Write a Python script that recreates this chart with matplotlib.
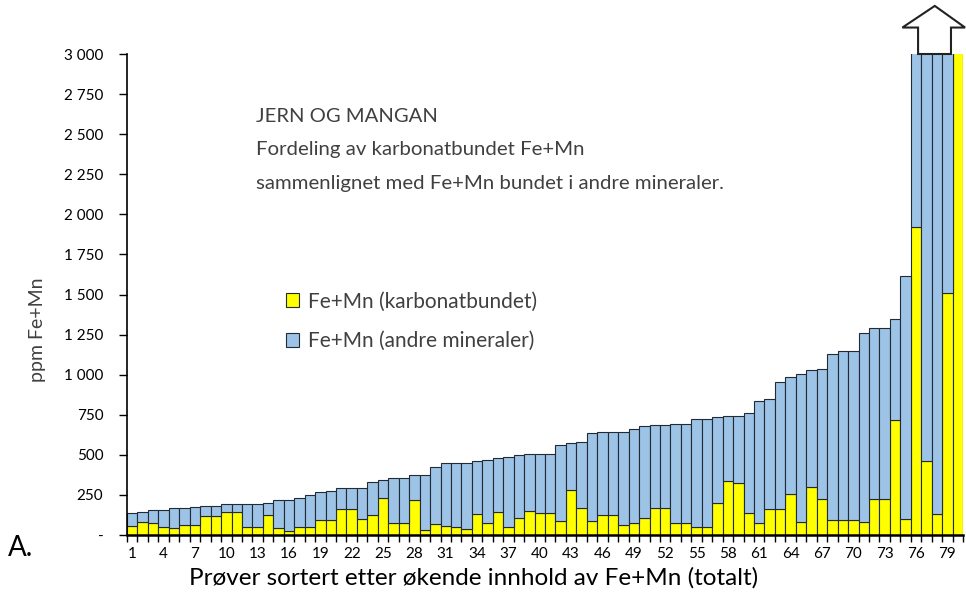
# -*- coding: utf-8 -*-
import numpy as np
import matplotlib
matplotlib.use('Agg')
import matplotlib.pyplot as plt
from matplotlib.patches import Patch, Polygon
from matplotlib import transforms

plt.rcParams['font.family'] = ['Lato', 'DejaVu Sans']

# Prøve nr. 1-80, sortert etter totalt Fe+Mn (ppm)
sample_no = np.arange(1, 81)
total_femn = np.array([
    140, 146, 154, 154, 166, 170, 173, 183, 183, 195,
    195, 195, 195, 198, 220, 220, 233, 248, 266, 275,
    291, 291, 291, 329, 341, 358, 358, 374, 374, 424,
    451, 451, 451, 464, 470, 478, 489, 499, 503, 506,
    506, 560, 572, 578, 634, 645, 645, 645, 661, 682,
    686, 686, 690, 693, 722, 722, 738, 745, 745, 761,
    834, 850, 954, 987, 1005, 1027, 1034, 1132, 1150, 1150,
    1257, 1294, 1294, 1345, 1617, 3300, 3800, 4500, 5500, 7000])
karbonat = np.array([
    56, 79, 73, 50, 42, 62, 60, 116, 116, 141,
    141, 50, 50, 123, 42, 23, 50, 50, 92, 92,
    160, 160, 102, 123, 229, 75, 75, 220, 31, 67,
    54, 48, 37, 133, 73, 146, 48, 104, 152, 135,
    135, 85, 279, 166, 85, 125, 125, 62, 77, 108,
    166, 166, 77, 77, 52, 52, 202, 335, 327, 135,
    76, 160, 160, 256, 82, 300, 227, 93, 93, 93,
    78, 222, 222, 715, 98, 1922, 462, 133, 1510, 7000])
andre = total_femn - karbonat

yticks = np.arange(0, 3001, 250)
ytick_labels = ['-' if v == 0 else '{:,}'.format(v).replace(',', ' ') for v in yticks]
xticks = np.arange(1, 81, 3)

fig = plt.figure(figsize=(9.66, 5.95), dpi=100)
ax = fig.add_axes([127/966, 60/595, 836/966, 481/595])

ax.bar(sample_no, karbonat, width=1.0, color='#ffff00', edgecolor='#222a35', linewidth=0.8)
ax.bar(sample_no, andre, width=1.0, bottom=karbonat, color='#9dc3e6',
       edgecolor='#222a35', linewidth=0.8)

ax.set_xlim(0.5, 80.5)
ax.set_ylim(0, 3000)
ax.spines['top'].set_visible(False)
ax.spines['right'].set_visible(False)
ax.spines['left'].set_linewidth(1.2)
ax.spines['bottom'].set_linewidth(1.8)

ax.set_yticks(yticks)
ax.set_yticklabels(ytick_labels, fontsize=11)
ax.tick_params(axis='y', length=6, width=1, pad=11)
ax.set_xticks(xticks)
ax.set_xticklabels([str(v) for v in xticks], fontsize=11)
ax.set_xticks(np.arange(0.5, 81, 1), minor=True)
ax.tick_params(axis='x', which='major', length=0, pad=9)
ax.tick_params(axis='x', which='minor', length=5, width=1)

ax.set_ylabel('ppm Fe+Mn', fontsize=14, color='#404040')
ax.yaxis.set_label_coords(-0.097, 0.426)
ax.set_xlabel('Prøver sortert etter økende innhold av Fe+Mn (totalt)', fontsize=17.5)
ax.xaxis.set_label_coords((474 - 127) / 836, -0.067)

fig.text(256/966, 1 - 116/595, 'JERN OG MANGAN', fontsize=14.6, color='#404040', va='center')
fig.text(256/966, 1 - 149/595, 'Fordeling av karbonatbundet Fe+Mn', fontsize=14.7,
         color='#404040', va='center')
fig.text(256/966, 1 - 183/595, 'sammenlignet med Fe+Mn bundet i andre mineraler.', fontsize=14.7,
         color='#404040', va='center')
fig.text(8/966, 1 - 548/595, 'A.', fontsize=20, va='center')

handles = [Patch(facecolor='#ffff00', edgecolor='#222a35', linewidth=0.8),
           Patch(facecolor='#9dc3e6', edgecolor='#222a35', linewidth=0.8)]
ax.legend(handles, ['Fe+Mn (karbonatbundet)', 'Fe+Mn (andre mineraler)'],
          loc='upper left', bbox_to_anchor=(267/966, 1 - 273/595), bbox_transform=fig.transFigure,
          frameon=False, fontsize=15, handlelength=0.65, handleheight=0.65,
          labelspacing=0.92, handletextpad=0.4, labelcolor='#404040')

# hul pil over søylene som går ut av skalaen
trans = transforms.blended_transform_factory(ax.transData, ax.transAxes)
arrow_pts = [(76.2, 1.0), (79.35, 1.0), (79.35, 1.055), (80.7, 1.055),
             (77.8, 1.10), (74.7, 1.055), (76.2, 1.055)]
ax.add_patch(Polygon(arrow_pts, closed=True, transform=trans, facecolor='white',
                     edgecolor='#222222', linewidth=1.5, clip_on=False, zorder=5))

fig.savefig('out.png', dpi=100)
